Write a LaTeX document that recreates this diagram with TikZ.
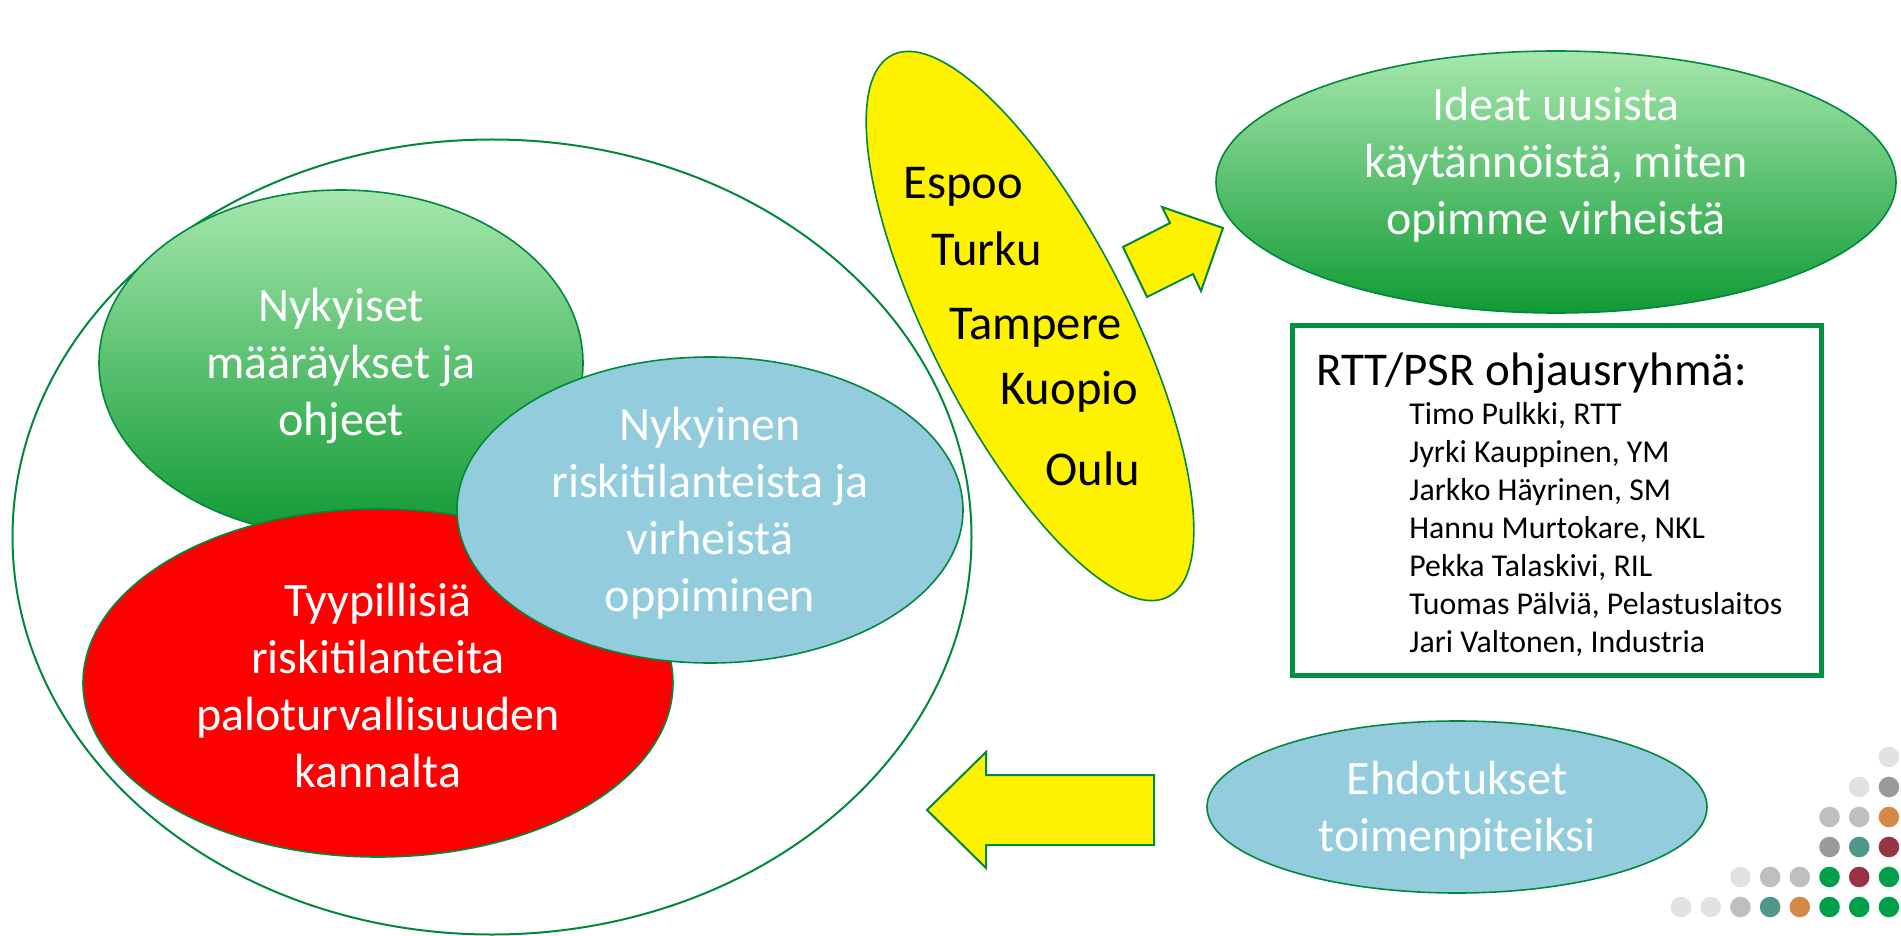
\documentclass[tikz,border=0pt]{standalone}
\usepackage{fontspec}
\setmainfont{Carlito}
\usetikzlibrary{shapes.geometric}
\definecolor{lineg}{RGB}{0,136,60}
\definecolor{boxg}{RGB}{0,146,63}
\definecolor{gtop}{RGB}{166,231,173}
\definecolor{gbot}{RGB}{16,154,52}
\definecolor{skyb}{RGB}{147,205,221}
\definecolor{dotlight}{RGB}{226,226,226}
\definecolor{dotmid}{RGB}{191,191,191}
\definecolor{dotdark}{RGB}{154,154,154}
\definecolor{dotteal}{RGB}{78,151,139}
\definecolor{dotorange}{RGB}{212,136,74}
\definecolor{dotwine}{RGB}{153,51,68}
\definecolor{dotgreen}{RGB}{0,160,74}
\begin{document}
\begin{tikzpicture}[x=0.5pt,y=-0.5pt,
        ball/.style={ellipse,draw=lineg,line width=0.8pt,inner sep=0pt},
        greenball/.style={ball,top color=gtop,bottom color=gbot},
        inside/.style={text=white,align=center,yshift=-1.5pt,
            font=\fontsize{24}{28.5}\selectfont},
        city/.style={anchor=base west,inner sep=0pt,font=\fontsize{24.3}{28}\selectfont},
        member/.style={anchor=base west,inner sep=0pt,font=\fontsize{15.9}{19}\selectfont},
        blockarrow/.style={fill=yellow,draw=lineg,line width=1pt}]
\useasboundingbox (0,0) rectangle (1901,936);

% outer ring with the three topics
\node[ball,line width=1pt,minimum width=479.5pt,minimum height=397.5pt] (ring) at (492,537) {};
\node[greenball,minimum width=242pt,minimum height=173pt] (rules) at (341,363) {};
\node[ball,fill=red,minimum width=295pt,minimum height=174pt] (risks) at (378,683) {};
\node[ball,fill=skyb,minimum width=253pt,minimum height=153pt] (learn) at (710,510) {};
\node[inside] at (rules) {Nykyiset\\määräykset ja\\ohjeet};
\node[inside] at (risks) {Tyypillisiä\\riskitilanteita\\paloturvallisuuden\\kannalta};
\node[inside] at (learn) {Nykyinen\\riskitilanteista ja\\virheistä\\oppiminen};

% cities
\node[ball,fill=yellow,minimum width=304pt,minimum height=99pt,rotate=-63] (cities) at (1030,326) {};
\node[city] (espoo) at (903,199) {Espoo};
\node[city] (turku) at (931,266) {Turku};
\node[city] (tampere) at (949,340) {Tampere};
\node[city] (kuopio) at (1000,404) {Kuopio};
\node[city] (oulu) at (1045,485) {Oulu};

\draw[blockarrow] (1123,247) -- (1170,223) -- (1162,207) -- (1223,228)
    -- (1201,291) -- (1193,274) -- (1147,297) -- cycle;

\node[greenball,minimum width=340pt,minimum height=131pt] (ideas) at (1556,182) {};
\node[inside] at ([yshift=10pt]ideas.center) {Ideat uusista\\käytännöistä, miten\\opimme virheistä};

% steering group
\node[draw=boxg,line width=2.5pt,minimum width=264.5pt,minimum height=174.5pt] (panel) at (1556.5,500.5) {};
\node[anchor=base west,inner sep=0pt,font=\fontsize{23.5}{28.5}\selectfont] (title) at (1316,386) {RTT/PSR ohjausryhmä:};
\foreach \who [count=\i] in {{Timo Pulkki, RTT},{Jyrki Kauppinen, YM},{Jarkko Häyrinen, SM},
        {Hannu Murtokare, NKL},{Pekka Talaskivi, RIL},{Tuomas Pälviä, Pelastuslaitos},
        {Jari Valtonen, Industria}}
    \node[member] (m\i) at (1409,{424+38*(\i-1)}) {\who};

\node[ball,fill=skyb,minimum width=250pt,minimum height=86pt] (proposals) at (1457,807) {};
\node[inside] at (proposals) {Ehdotukset\\toimenpiteiksi};

\draw[blockarrow] (927,810) -- (986,752) -- (986,775) -- (1154,775)
    -- (1154,845) -- (986,845) -- (986,868) -- cycle;

% dot pattern
\foreach \c/\r/\col in {7/0/dotlight,6/1/dotlight,7/1/dotdark,5/2/dotmid,6/2/dotmid,7/2/dotorange,
        5/3/dotdark,6/3/dotteal,7/3/dotwine,2/4/dotlight,3/4/dotmid,4/4/dotmid,5/4/dotgreen,
        6/4/dotwine,7/4/dotgreen,0/5/dotlight,1/5/dotlight,2/5/dotmid,3/5/dotteal,4/5/dotorange,
        5/5/dotgreen,6/5/dotgreen,7/5/dotgreen}
    \fill[\col] ({1681+29.7*\c},{757+30*\r}) circle[radius=5.15pt];

\end{tikzpicture}
\end{document}
